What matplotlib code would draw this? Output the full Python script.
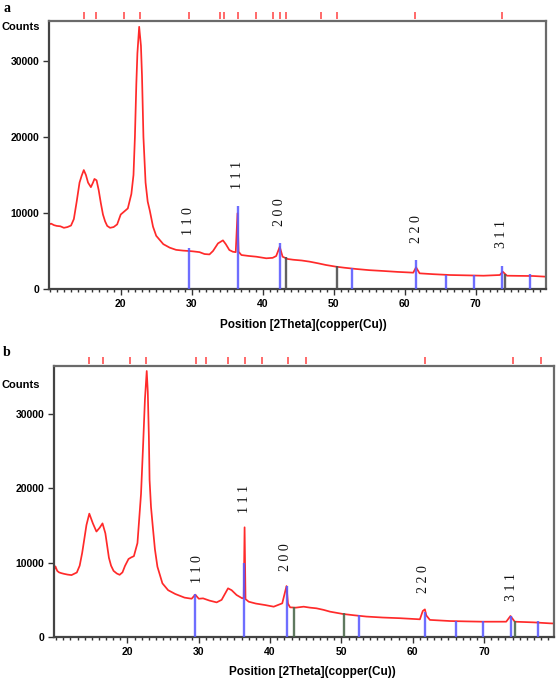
import matplotlib
matplotlib.use("Agg")
import matplotlib.pyplot as plt
import matplotlib.transforms as mtransforms
from matplotlib.ticker import MultipleLocator, FixedLocator

# ---------------- data: panel a ----------------
a_theta = [9.9, 10.2, 10.6, 11.0, 11.5, 12.0, 12.5, 13.0, 13.4, 13.8, 14.2, 14.5, 14.8,
           15.1, 15.4, 15.8, 16.1, 16.3, 16.6, 16.9, 17.2, 17.5, 17.8, 18.1, 18.5,
           19.0, 19.5, 20.0, 20.5, 21.0, 21.5, 21.8, 22.0, 22.2, 22.35, 22.6, 22.85,
           23.0, 23.2, 23.5, 23.8, 24.1, 24.55, 25.0, 25.5, 26.0, 26.9, 27.8, 28.8,
           29.6, 30.2, 31.1, 31.8, 32.5, 33.0, 33.7, 34.4, 34.8, 35.3, 35.8, 36.2,
           36.45, 36.6, 37.0, 38.0, 39.1, 40.5, 41.4, 41.9, 42.4, 42.8, 43.5, 44.3,
           45.5, 46.6, 47.8, 48.9, 50.3, 51.5, 53.2, 55.0, 57.0, 59.0, 61.2, 61.6,
           62.1, 64.0, 66.4, 68.5, 71.1, 73.4, 73.8, 74.4, 76.0, 78.1, 79.9]
a_counts = [8500, 8600, 8400, 8300, 8250, 8050, 8150, 8350, 9200, 11500, 14000, 14900, 15650,
            15000, 14000, 13400, 14000, 14480, 14300, 13000, 11300, 9800, 8900, 8300, 8050,
            8150, 8500, 9800, 10200, 10600, 12500, 15000, 20000, 27000, 31000, 34500, 32000,
            28000, 20000, 14000, 11500, 10300, 8200, 7000, 6450, 5900, 5440, 5150, 5050,
            5000, 4950, 4850, 4600, 4550, 5000, 6000, 6400, 5900, 5130, 4900, 4850,
            9960, 4900, 4470, 4350, 4250, 4040, 4100, 4340, 5560, 4250, 3950, 3850,
            3750, 3600, 3380, 3160, 2940, 2800, 2630, 2480, 2370, 2250, 2150, 2850,
            2060, 1950, 1840, 1800, 1750, 1840, 2280, 1750, 1730, 1710, 1620]

a_blue_pos = [29.6, 36.5, 42.4, 52.6, 61.6, 65.8, 69.8, 73.7, 77.6]
a_blue_int = [5350, 10920, 6100, 2710, 3820, 1840, 1840, 3070, 1970]
a_dark_pos = [43.3, 50.5, 74.1]
a_dark_int = [4250, 3070, 1970]

a_ref_ticks = [14.85, 16.55, 20.4, 22.75, 29.6, 34.0, 34.5, 36.5, 39.1, 41.4, 42.5,
               43.3, 48.15, 50.5, 61.5, 73.65]

a_hkl = ["1 1 0", "1 1 1", "2 0 0", "2 2 0", "3 1 1"]
a_hkl_pos = [29.6, 36.5, 42.4, 61.6, 73.7]
a_hkl_base = [7100, 13160, 8290, 6050, 5400]

# ---------------- data: panel b ----------------
b_theta = [9.7, 9.9, 10.15, 10.4, 10.7, 11.1, 11.6, 12.15, 12.9, 13.3, 13.65, 14.0, 14.25,
           14.65, 15.15, 15.65, 16.1, 16.5, 16.9, 17.4, 17.7, 18.05, 18.5, 18.9, 19.3,
           19.65, 20.15, 20.5, 20.9, 21.4, 21.9, 22.2, 22.45, 22.7, 22.85, 23.0, 23.1,
           23.3, 23.55, 23.85, 24.2, 24.9, 25.7, 26.7, 28.0, 29.0, 29.5, 30.0, 30.6,
           31.5, 32.5, 33.2, 34.1, 34.6, 35.3, 36.1, 36.3, 36.42, 36.55, 37.0, 38.0,
           39.3, 40.5, 41.7, 42.3, 42.5, 42.8, 43.6, 44.7, 45.6, 46.5, 47.5, 48.4,
           50.2, 51.8, 53.5, 55.8, 58.2, 61.0, 61.4, 61.7, 61.9, 62.4, 65.2, 67.5,
           69.8, 73.1, 73.7, 74.3, 76.9, 79.2, 79.8]
b_counts = [9000, 9500, 8900, 8700, 8600, 8500, 8400, 8330, 8680, 9600, 11320, 13500, 15070,
            16600, 15290, 14190, 14700, 15290, 13960, 10660, 9600, 8900, 8550, 8370, 8700,
            9560, 10500, 10700, 10880, 12640, 19250, 26000, 32000, 35800, 33000, 27000, 21130,
            17500, 14850, 11800, 9460, 7220, 6300, 5790, 5300, 5150, 5700, 5150, 5200,
            4900, 4660, 5000, 6550, 6300, 5650, 5200, 5300, 14760, 5100, 4750, 4500,
            4300, 4080, 4530, 6860, 4500, 3990, 3950, 4080, 3950, 3860, 3650, 3410,
            3100, 2920, 2750, 2620, 2530, 2380, 3500, 3720, 2900, 2300, 2150, 2100,
            2060, 2060, 2830, 2060, 1970, 1840, 1820]

b_blue_pos = [29.5, 36.4, 42.3, 52.4, 61.7, 66.0, 69.9, 73.8, 77.6]
b_blue_int = [5790, 9920, 6860, 2960, 3410, 2150, 2150, 2870, 2150]
b_dark_pos = [43.4, 50.4, 74.4]
b_dark_int = [4080, 3190, 2150]

b_ref_ticks = [14.65, 16.55, 20.3, 22.65, 29.6, 31.05, 34.05, 36.45, 38.9, 42.45,
               45.0, 61.75, 74.0, 77.95]

b_hkl = ["1 1 0", "1 1 1", "2 0 0", "2 2 0", "3 1 1"]
b_hkl_pos = [29.8, 36.4, 42.1, 61.5, 73.8]
b_hkl_base = [7270, 16690, 8880, 5920, 4850]

x_major = [20, 30, 40, 50, 60, 70]
y_major = [0, 10000, 20000, 30000]
y_labels = ["0", "10000", "20000", "30000"]

# ---------------- styling ----------------
W, H = 557, 681
fig = plt.figure(figsize=(W / 100, H / 100), dpi=100)

SANS = ["Liberation Sans", "DejaVu Sans"]
SERIF = ["Liberation Serif", "DejaVu Serif"]
RED = "#ff2a2a"
BLUE = "#5a5aff"
SPINE = "#6a6a6a"


def box(l, t, r, b):
    return [l / W, 1 - b / H, (r - l) / W, (b - t) / H]


def draw_panel(ax, theta, counts, bpos, bint, dpos, dint, dcol, refs, hkl, hpos, hbase,
               xlim, ylim):
    ax.plot(theta, counts, color=RED, lw=1.25, zorder=2)
    ax.vlines(bpos, 0, bint, colors=BLUE, lw=1.7, alpha=0.88, zorder=3)
    ax.vlines(dpos, 0, dint, colors=dcol, lw=1.7, alpha=0.9, zorder=3)
    trans = mtransforms.blended_transform_factory(ax.transData, ax.transAxes)
    ax.vlines(refs, 1.006, 1.032, colors="#ff5050", lw=1.2, transform=trans, clip_on=False)
    for lab, xp, yb in zip(hkl, hpos, hbase):
        ax.text(xp, yb, lab, rotation=90, ha="center", va="bottom",
                fontsize=10, family=SERIF, color="#111111")
    ax.set_xlim(*xlim)
    ax.set_ylim(*ylim)
    ax.xaxis.set_major_locator(FixedLocator(x_major))
    ax.xaxis.set_minor_locator(MultipleLocator(1))
    ax.yaxis.set_major_locator(FixedLocator(y_major))
    ax.set_yticklabels(y_labels)
    ax.tick_params(axis="both", which="major", direction="out", length=4, width=1,
                   color="#333333", labelsize=7.5, pad=3)
    ax.tick_params(axis="x", which="minor", direction="out", length=2, width=1, color="#333333")
    ax.tick_params(axis="y", which="minor", left=False)
    for lab in ax.get_xticklabels() + ax.get_yticklabels():
        lab.set_family(SANS)
        lab.set_weight("bold")
    for s in ax.spines.values():
        s.set_color(SPINE)
        s.set_linewidth(1.6)
    ax.spines["left"].set_color("#444444")
    ax.spines["bottom"].set_color("#444444")


ax_a = fig.add_axes(box(49, 21, 546, 289))
draw_panel(ax_a, a_theta, a_counts, a_blue_pos, a_blue_int, a_dark_pos, a_dark_int, "#505050",
           a_ref_ticks, a_hkl, a_hkl_pos, a_hkl_base, (9.9, 79.9), (0, 35260))

ax_b = fig.add_axes(box(54, 366, 554, 637))
draw_panel(ax_b, b_theta, b_counts, b_blue_pos, b_blue_int, b_dark_pos, b_dark_int, "#4d6a4d",
           b_ref_ticks, b_hkl, b_hkl_pos, b_hkl_base, (9.7, 79.8), (0, 36470))


def ftext(x, y, s, **kw):
    fig.text(x / W, 1 - y / H, s, **kw)


ftext(3, 8, "a", fontsize=10, family=SERIF, weight="bold", va="center", ha="left")
ftext(3, 353, "b", fontsize=10, family=SERIF, weight="bold", va="center", ha="left")
ftext(2, 27, "Counts", fontsize=8, family=SANS, weight="bold", va="center", ha="left")
ftext(2, 385, "Counts", fontsize=8, family=SANS, weight="bold", va="center", ha="left")
ftext(303, 325, "Position [2Theta](copper(Cu))", fontsize=8.5, family=SANS, weight="bold",
      va="center", ha="center")
ftext(312, 672, "Position [2Theta](copper(Cu))", fontsize=8.5, family=SANS, weight="bold",
      va="center", ha="center")

fig.savefig("out.png", dpi=100)
